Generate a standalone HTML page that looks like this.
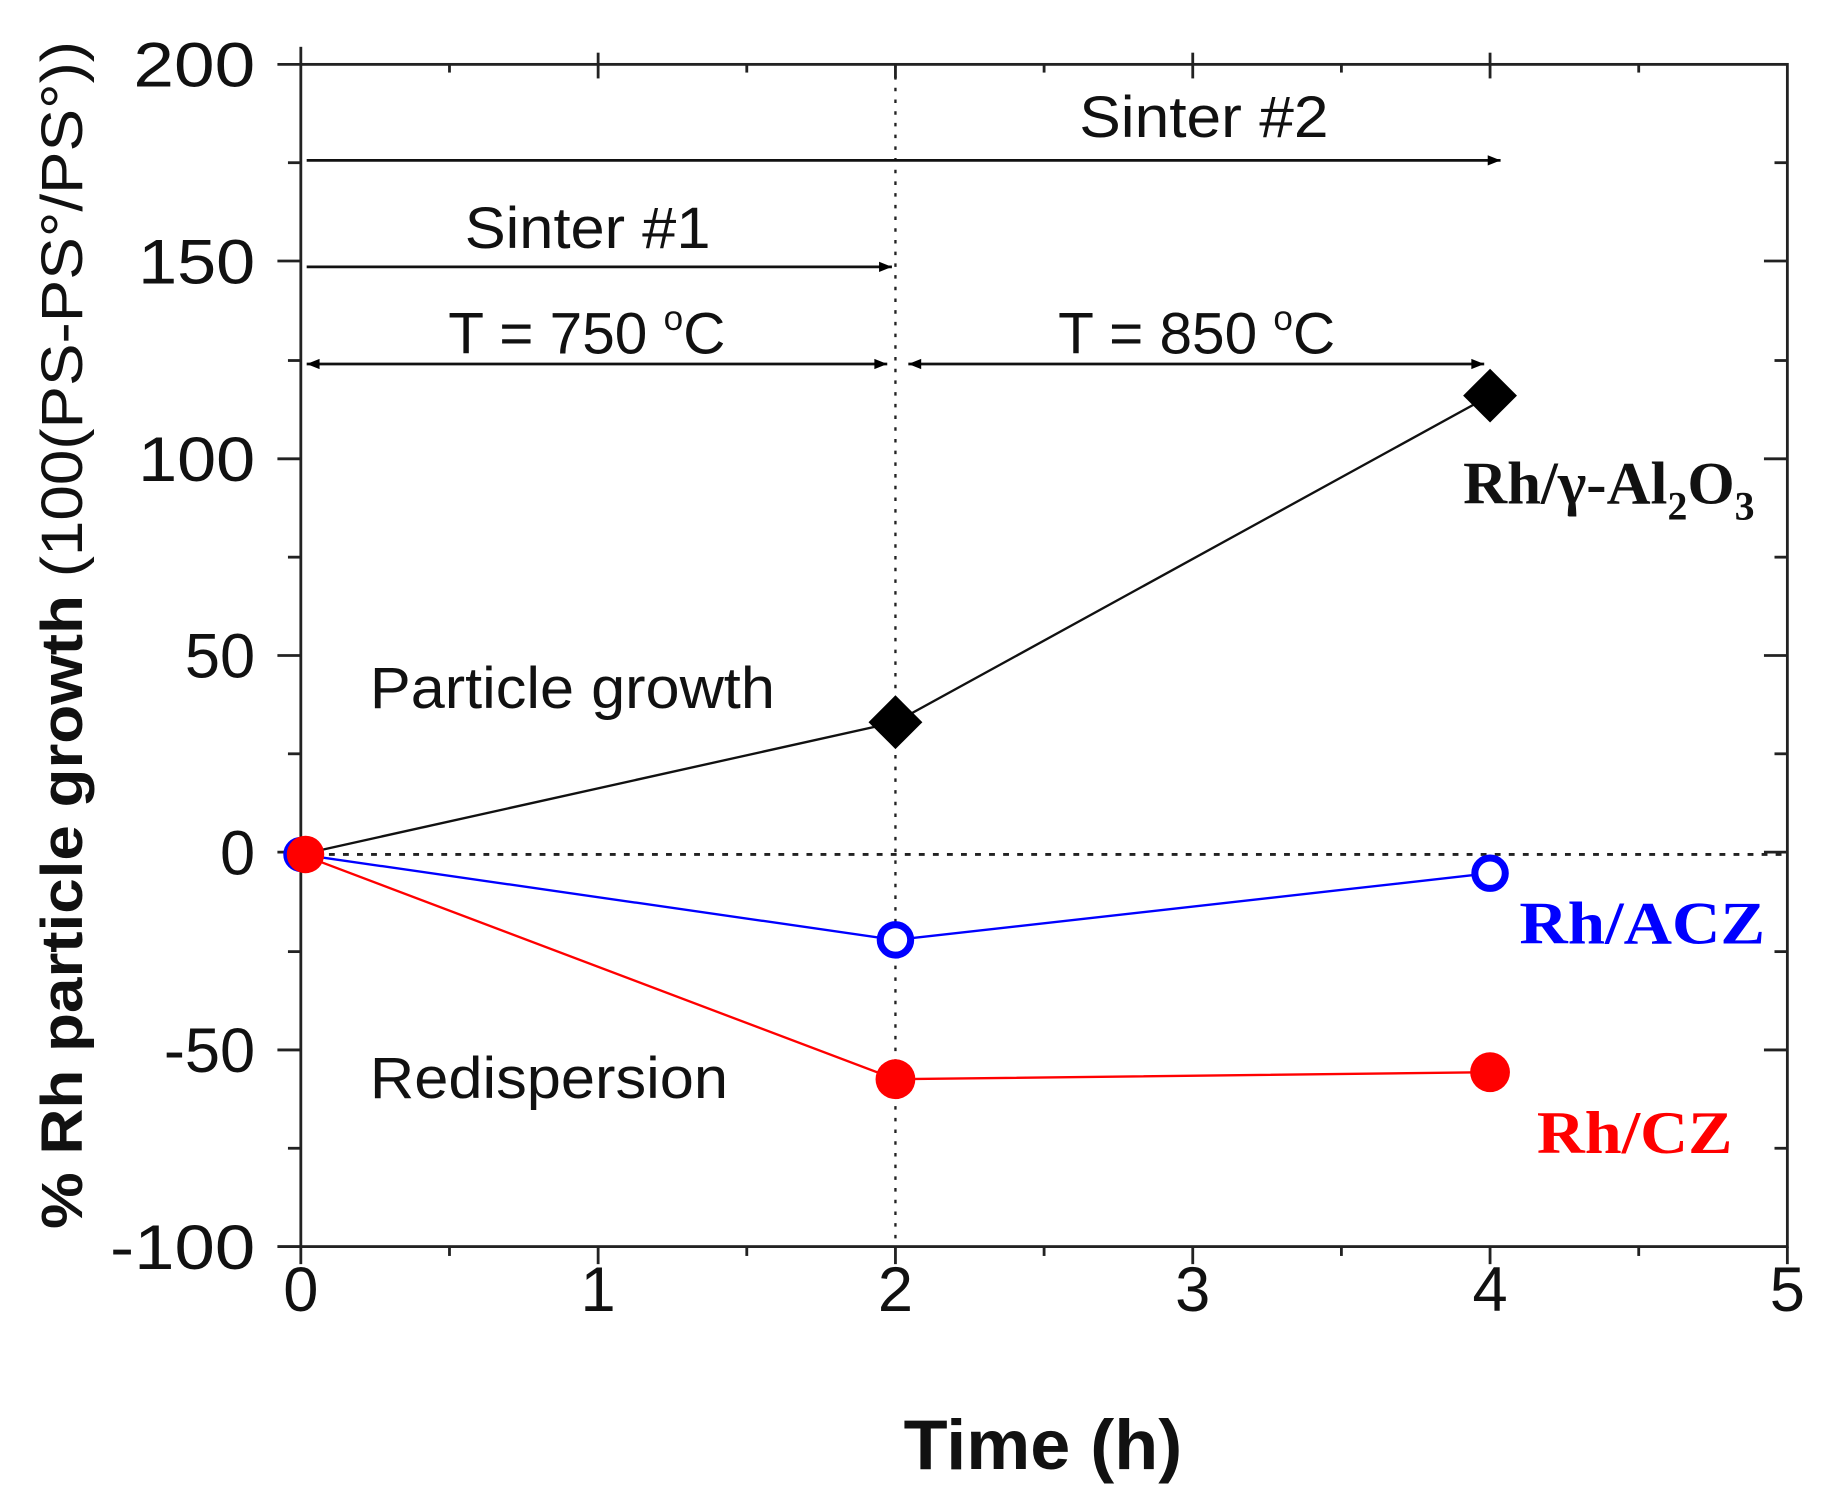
<!DOCTYPE html>
<html><head><meta charset="utf-8"><style>html,body{margin:0;padding:0;background:#fff}svg{display:block}</style></head>
<body>
<svg width="1826" height="1500" viewBox="0 0 1560 1281.5" xmlns="http://www.w3.org/2000/svg" font-family="Liberation Sans, Arial, sans-serif">
<defs>
<marker id="ah" viewBox="0 0 10 10" refX="10" refY="5" markerWidth="22" markerHeight="11" markerUnits="userSpaceOnUse" orient="auto-start-reverse"><path d="M0,1 L10,5 L0,9 z" fill="#000"/></marker>
</defs>
<g stroke="#222" stroke-width="2.4" fill="none">
<rect x="257" y="55" width="1270" height="1010"/>
</g>
<g stroke="#222" stroke-width="2.4">
<line x1="257" y1="1065" x2="257" y2="1080"/><line x1="511" y1="1065" x2="511" y2="1080"/><line x1="765" y1="1065" x2="765" y2="1080"/><line x1="1019" y1="1065" x2="1019" y2="1080"/><line x1="1273" y1="1065" x2="1273" y2="1080"/><line x1="1527" y1="1065" x2="1527" y2="1080"/>
<line x1="384" y1="1065" x2="384" y2="1073"/><line x1="638" y1="1065" x2="638" y2="1073"/><line x1="892" y1="1065" x2="892" y2="1073"/><line x1="1146" y1="1065" x2="1146" y2="1073"/><line x1="1400" y1="1065" x2="1400" y2="1073"/>
<line x1="257" y1="40" x2="257" y2="55"/>
<line x1="511" y1="45" x2="511" y2="67"/><line x1="765" y1="55" x2="765" y2="67"/><line x1="1019" y1="45" x2="1019" y2="67"/><line x1="1273" y1="45" x2="1273" y2="67"/>
<line x1="384" y1="55" x2="384" y2="62"/><line x1="638" y1="55" x2="638" y2="62"/><line x1="892" y1="55" x2="892" y2="62"/><line x1="1146" y1="55" x2="1146" y2="62"/><line x1="1400" y1="55" x2="1400" y2="62"/>
<line x1="237" y1="55" x2="257" y2="55"/><line x1="237" y1="223" x2="257" y2="223"/><line x1="237" y1="392" x2="257" y2="392"/><line x1="237" y1="560" x2="257" y2="560"/><line x1="237" y1="728" x2="257" y2="728"/><line x1="237" y1="897" x2="257" y2="897"/><line x1="237" y1="1065" x2="257" y2="1065"/>
<line x1="246" y1="139" x2="257" y2="139"/><line x1="246" y1="308" x2="257" y2="308"/><line x1="246" y1="476" x2="257" y2="476"/><line x1="246" y1="644" x2="257" y2="644"/><line x1="246" y1="813" x2="257" y2="813"/><line x1="246" y1="981" x2="257" y2="981"/>
<line x1="1507" y1="223" x2="1527" y2="223"/><line x1="1507" y1="392" x2="1527" y2="392"/><line x1="1507" y1="560" x2="1527" y2="560"/><line x1="1507" y1="728" x2="1527" y2="728"/><line x1="1507" y1="897" x2="1527" y2="897"/>
<line x1="1516" y1="139" x2="1527" y2="139"/><line x1="1516" y1="308" x2="1527" y2="308"/><line x1="1516" y1="476" x2="1527" y2="476"/><line x1="1516" y1="644" x2="1527" y2="644"/><line x1="1516" y1="813" x2="1527" y2="813"/><line x1="1516" y1="981" x2="1527" y2="981"/>
</g>
<g font-size="54" fill="#111" text-anchor="end">
<text x="218" y="74" textLength="104" lengthAdjust="spacingAndGlyphs">200</text><text x="218" y="242" textLength="100" lengthAdjust="spacingAndGlyphs">150</text><text x="218" y="411" textLength="100" lengthAdjust="spacingAndGlyphs">100</text><text x="218" y="579">50</text><text x="218" y="747">0</text><text x="218" y="916">-50</text><text x="218" y="1084" textLength="124" lengthAdjust="spacingAndGlyphs">-100</text>
</g>
<g font-size="54" fill="#111" text-anchor="middle">
<text x="257" y="1120">0</text><text x="511" y="1120">1</text><text x="765" y="1120">2</text><text x="1019" y="1120">3</text><text x="1273" y="1120">4</text><text x="1527" y="1120">5</text>
</g>
<text x="772" y="1255" font-size="60" font-weight="bold" fill="#111" textLength="238" lengthAdjust="spacingAndGlyphs">Time (h)</text>
<text transform="translate(70,1050) rotate(-90)" font-size="50" fill="#111" textLength="1015" lengthAdjust="spacingAndGlyphs"><tspan font-weight="bold">% Rh particle growth</tspan> (100(PS-PS°/PS°))</text>
<line x1="765" y1="55" x2="765" y2="1065" stroke="#222" stroke-width="2" stroke-dasharray="3,7"/>
<line x1="257" y1="730" x2="1527" y2="730" stroke="#222" stroke-width="2.5" stroke-dasharray="5,7"/>
<g stroke="#111" stroke-width="2.4">
<line x1="262" y1="137" x2="1282" y2="137" marker-end="url(#ah)"/>
<line x1="262" y1="228" x2="762" y2="228" marker-end="url(#ah)"/>
<line x1="262" y1="311" x2="758" y2="311" marker-start="url(#ah)" marker-end="url(#ah)"/>
<line x1="776" y1="311" x2="1268" y2="311" marker-start="url(#ah)" marker-end="url(#ah)"/>
</g>
<g font-size="50" fill="#111">
<text x="922" y="117" textLength="213" lengthAdjust="spacingAndGlyphs">Sinter #2</text>
<text x="397" y="212" textLength="210" lengthAdjust="spacingAndGlyphs">Sinter #1</text>
<text x="383" y="302">T = 750 <tspan font-size="30" dy="-20">o</tspan><tspan dy="20">C</tspan></text>
<text x="904" y="302">T = 850 <tspan font-size="30" dy="-20">o</tspan><tspan dy="20">C</tspan></text>
<text x="316" y="605" textLength="346" lengthAdjust="spacingAndGlyphs">Particle growth</text>
<text x="316" y="938" textLength="306" lengthAdjust="spacingAndGlyphs">Redispersion</text>
</g>
<polyline points="257,730 765,617 1273,338" fill="none" stroke="#111" stroke-width="2"/>
<polyline points="257,730 765,803 1273,746" fill="none" stroke="#0000ff" stroke-width="2"/>
<polyline points="257,730 765,922 1273,916" fill="none" stroke="#ff0000" stroke-width="2"/>
<path d="M765,594 L788,617 L765,640 L742,617 z" fill="#000"/>
<path d="M1273,315 L1296,338 L1273,361 L1250,338 z" fill="#000"/>
<circle cx="257" cy="730" r="12" fill="none" stroke="#0000ff" stroke-width="6"/>
<circle cx="765" cy="803" r="13" fill="#fff" stroke="#0000ff" stroke-width="6"/>
<circle cx="1273" cy="746" r="13" fill="#fff" stroke="#0000ff" stroke-width="6"/>
<circle cx="261" cy="730" r="16" fill="#ff0000"/>
<circle cx="765" cy="922" r="17" fill="#ff0000"/>
<circle cx="1273" cy="916" r="17" fill="#ff0000"/>
<g font-family="Liberation Serif, Times New Roman, serif" font-weight="bold" font-size="52">
<text x="1250" y="430" fill="#111">Rh/γ-Al<tspan font-size="34" dy="14">2</tspan><tspan dy="-14">O</tspan><tspan font-size="34" dy="14">3</tspan></text>
<text x="1298" y="806" fill="#0000ff" textLength="210" lengthAdjust="spacingAndGlyphs">Rh/ACZ</text>
<text x="1313" y="985" fill="#ff0000" textLength="167" lengthAdjust="spacingAndGlyphs">Rh/CZ</text>
</g>
</svg>
</body></html>
